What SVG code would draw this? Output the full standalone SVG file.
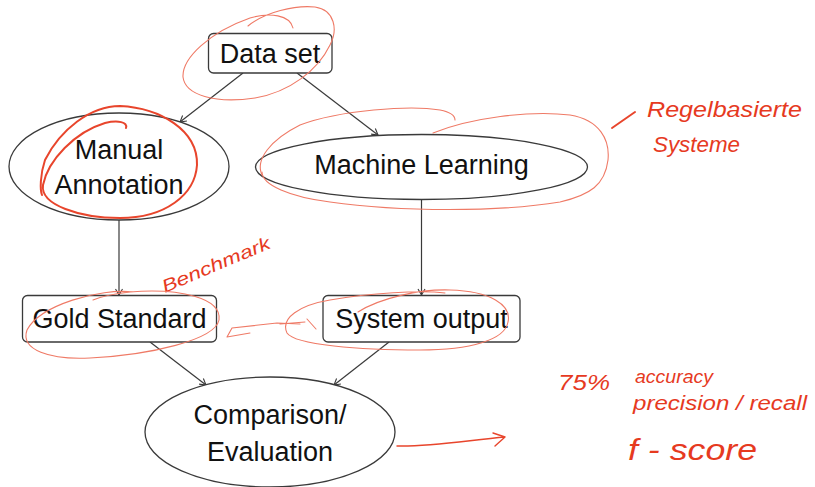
<svg xmlns="http://www.w3.org/2000/svg" width="815" height="487" viewBox="0 0 815 487">
<style>
.node{fill:#fff;stroke:#3a3a3a;stroke-width:1.3}
.lbl{font-family:"Liberation Sans",Arial,sans-serif;font-size:27px;fill:#111;text-anchor:middle}
.edge{fill:none;stroke:#3a3a3a;stroke-width:1.2}
.ink{fill:none;stroke:#e8452c;stroke-linecap:round;stroke-linejoin:round}
.thin{stroke-width:1.1;stroke:#ef7a66}
.thick{stroke-width:2}
.hand{font-family:"Liberation Sans",Arial,sans-serif;font-style:italic;fill:#e63a1f}
</style>
<defs>
<marker id="arr" markerWidth="10" markerHeight="10" refX="7" refY="5" orient="auto" markerUnits="userSpaceOnUse">
<path d="M1,1.5 L7,5 L1,8.5" fill="none" stroke="#3a3a3a" stroke-width="1.1"/>
</marker>
</defs>
<rect width="815" height="487" fill="#fff"/>
<g id="connectors">
<line class="edge" x1="243" y1="73" x2="180" y2="122" marker-end="url(#arr)"/>
<line class="edge" x1="297" y1="73" x2="378" y2="135" marker-end="url(#arr)"/>
<line class="edge" x1="119" y1="220" x2="119" y2="295" marker-end="url(#arr)"/>
<line class="edge" x1="421.5" y1="199" x2="421.5" y2="295" marker-end="url(#arr)"/>
<line class="edge" x1="150" y1="342" x2="206" y2="385" marker-end="url(#arr)"/>
<line class="edge" x1="389" y1="342" x2="334" y2="385" marker-end="url(#arr)"/>
</g>
<g id="dataset">
<rect class="node" x="208.5" y="33.5" width="123.5" height="39.5" rx="5"/>
<text class="lbl" x="270" y="63" font-size="28">Data set</text>
</g>
<g id="manual">
<ellipse class="node" cx="119" cy="166.5" rx="110" ry="53.5"/>
<text class="lbl" x="119" y="159">Manual</text>
<text class="lbl" x="119" y="194">Annotation</text>
</g>
<g id="ml">
<ellipse class="node" cx="421.5" cy="167" rx="166" ry="32.5"/>
<text class="lbl" x="421.5" y="173.5">Machine Learning</text>
</g>
<g id="gold">
<rect class="node" x="22.5" y="295.5" width="194" height="46.5" rx="5"/>
<text class="lbl" x="119.5" y="328">Gold Standard</text>
</g>
<g id="sysout">
<rect class="node" x="323" y="295.5" width="197" height="46.5" rx="5"/>
<text class="lbl" x="421.5" y="328">System output</text>
</g>
<g id="comparison">
<ellipse class="node" cx="270" cy="432" rx="125" ry="55"/>
<text class="lbl" x="270" y="424">Comparison/</text>
<text class="lbl" x="270" y="461">Evaluation</text>
</g>
<g id="annotations">
<path class="ink thin" d="M248,26 C265,12 295,5 315,7 C335,10 338,30 330,45 C318,70 290,92 255,98 C215,104 185,95 183,77 C182,58 210,32 250,18 C270,12 290,15 293,28"/>
<path class="ink thick" d="M126,128 C128,122 118,120 105,123 C75,132 48,160 43,185 C40,205 80,218 120,218 C165,218 195,195 197,165 C198,130 160,108 120,106 C90,106 60,130 45,160 C40,175 40,190 42,195"/>
<path class="ink thin" d="M262,175 C255,160 270,140 300,125 C340,110 410,105 440,110 C450,112 455,115 455,120"/>
<path class="ink thin" d="M433,133 C470,118 530,110 570,115 C600,120 610,140 608,160 C605,185 590,195 560,202 C500,212 400,212 330,202 C290,197 262,185 262,172"/>
<path class="ink thick" d="M612,128 L635,112" stroke-width="2.5"/>
<text class="hand" x="647" y="117" font-size="22" textLength="155" lengthAdjust="spacingAndGlyphs">Regelbasierte</text>
<text class="hand" x="653" y="152" font-size="22" textLength="87" lengthAdjust="spacingAndGlyphs">Systeme</text>
<text class="hand" transform="translate(165,293) rotate(-23)" font-size="18" textLength="116" lengthAdjust="spacingAndGlyphs">Benchmark</text>
<path class="ink thin" d="M133,292 C100,288 40,305 27,330 C20,350 50,360 90,358 C150,355 215,340 219,320 C222,298 180,288 130,292 C112,294 100,297 93,300"/>
<path class="ink thin" d="M358,312 C380,298 420,289 450,290 C490,291 512,305 508,322 C505,340 470,350 420,350 C360,350 295,345 287,333 C280,318 300,305 330,300 C370,293 420,290 445,293"/>
<path class="ink thin" d="M300,324 L277,323 L232,328 L227,337 L250,333 M280,324 L305,322 M307,319 L316,329"/>
<path class="ink" stroke-width="1.4" d="M397,446 C430,447 470,440 505,437 M493,433 L505,437 L495,446"/>
<text class="hand" x="558" y="390" font-size="22" textLength="52" lengthAdjust="spacingAndGlyphs">75%</text>
<text class="hand" x="635" y="383" font-size="18" textLength="78" lengthAdjust="spacingAndGlyphs">accuracy</text>
<text class="hand" x="633" y="410" font-size="20" textLength="174" lengthAdjust="spacingAndGlyphs">precision / recall</text>
<text class="hand" x="628" y="460" font-size="30" textLength="129" lengthAdjust="spacingAndGlyphs">f - score</text>
</g>
</svg>
